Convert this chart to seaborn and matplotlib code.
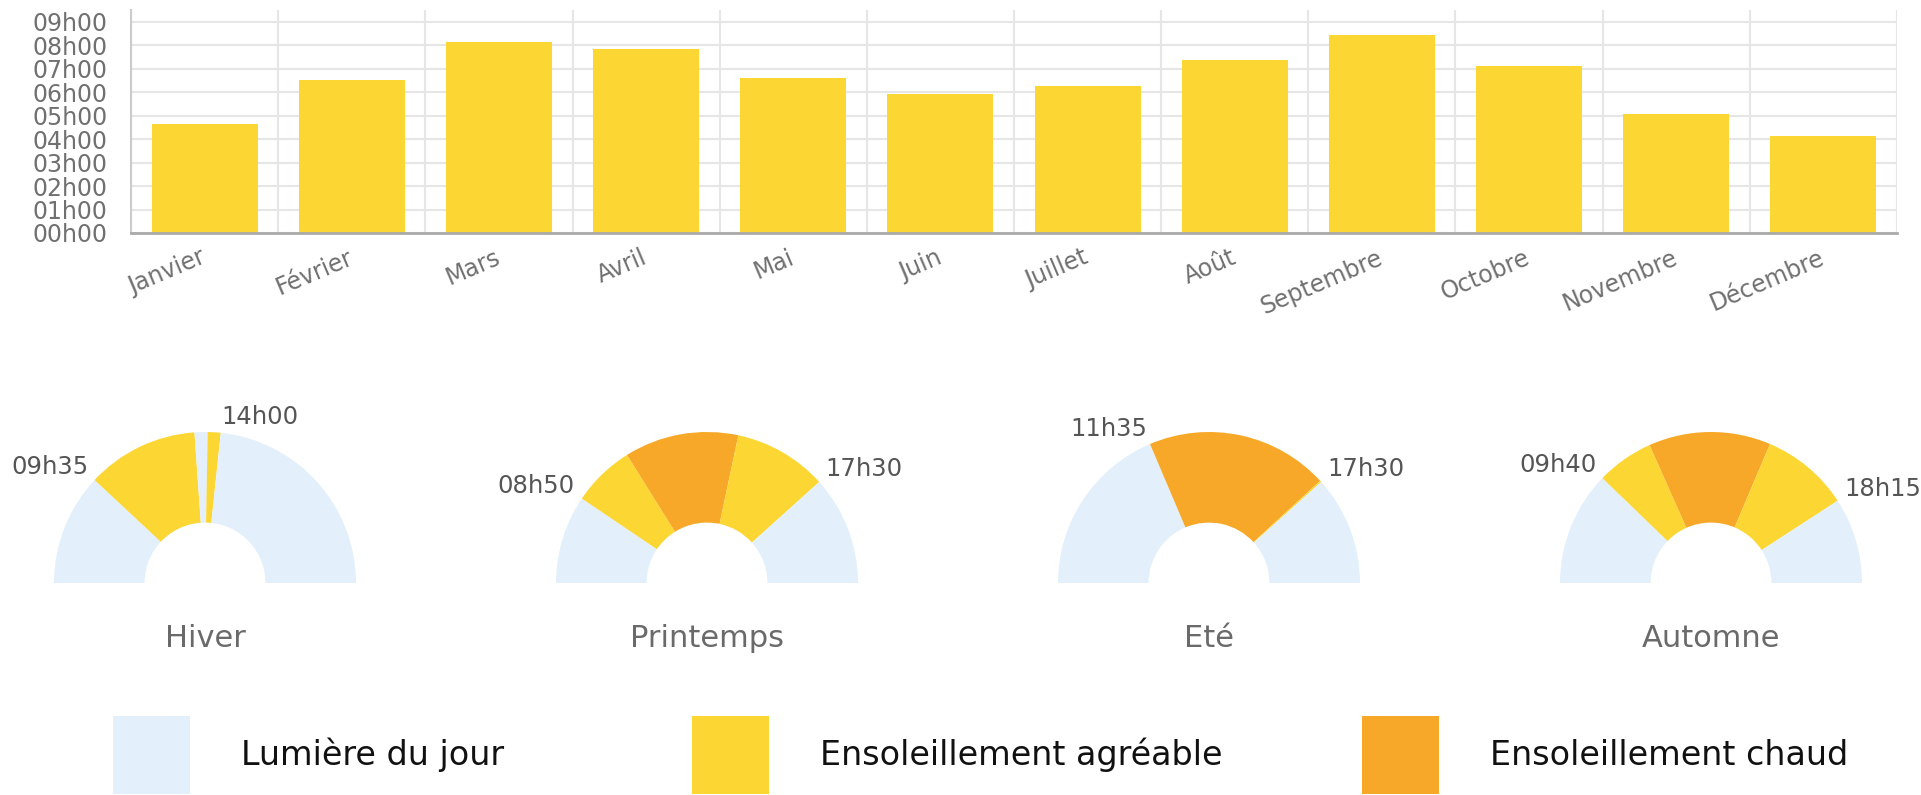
import numpy as np
import pandas as pd
import matplotlib
matplotlib.use("Agg")
import matplotlib.pyplot as plt
import seaborn as sns
from matplotlib.patches import Patch

# ---------------- data ----------------
months = ["Janvier", "Février", "Mars", "Avril", "Mai", "Juin", "Juillet",
          "Août", "Septembre", "Octobre", "Novembre", "Décembre"]
sun_hours = [4.65, 6.53, 8.15, 7.82, 6.60, 5.93, 6.27, 7.38, 8.42, 7.12, 5.05, 4.12]
hour_ticks = [0, 1, 2, 3, 4, 5, 6, 7, 8, 9]
hour_labels = ["00h00", "01h00", "02h00", "03h00", "04h00",
               "05h00", "06h00", "07h00", "08h00", "09h00"]

seasons = ["Hiver", "Printemps", "Eté", "Automne"]
hiver_bounds = ["06h00", "09h35", "13h10", "13h35", "14h00", "21h00"]
hiver_kinds = ["jour", "agreable", "jour", "agreable", "jour"]
printemps_bounds = ["06h00", "08h50", "10h50", "14h30", "17h30", "21h00"]
printemps_kinds = ["jour", "agreable", "chaud", "agreable", "jour"]
ete_bounds = ["06h00", "11h35", "17h27", "17h30", "21h00"]
ete_kinds = ["jour", "chaud", "agreable", "jour"]
automne_bounds = ["06h00", "09h40", "11h30", "15h25", "18h15", "21h00"]
automne_kinds = ["jour", "agreable", "chaud", "agreable", "jour"]
labelled_bounds = [[1, 4], [1, 4], [1, 3], [1, 4]]

legend_kinds = ["jour", "agreable", "chaud"]
legend_labels = ["Lumière du jour", "Ensoleillement agréable", "Ensoleillement chaud"]

# ---------------- style ----------------
palette = {"jour": "#E3F0FB", "agreable": "#FCD734", "chaud": "#F8A829"}
bar_color = "#FCD734"
grid_color = "#E6E6E6"

sns.set_style("white")
plt.rcParams["font.family"] = ["DejaVu Sans"]

W, H = 1921, 795
fig = plt.figure(figsize=(W / 100, H / 100), dpi=100)

# ---------------- bar chart ----------------
left, right, top, base = 131, 1897, 10, 233
ax = fig.add_axes([left / W, 1 - base / H, (right - left) / W, (base - top) / H])
df = pd.DataFrame({"mois": months, "heures": sun_hours})
sns.barplot(data=df, x="mois", y="heures", color=bar_color, saturation=1,
            width=0.72, ax=ax, linewidth=0)
ax.set_xlim(-0.5, 11.5)
ax.set_ylim(0, 9.5)
ax.set_xlabel("")
ax.set_ylabel("")
ax.set_yticks(hour_ticks)
ax.set_yticklabels(hour_labels)
ax.set_xticks(range(len(months)))
ax.set_xticklabels(months, rotation=23, ha="right", va="center",
                   rotation_mode="anchor")
ax.set_xticks(np.arange(-0.5, len(months), 1), minor=True)
ax.tick_params(axis="x", which="major", length=0, pad=17, labelsize=17,
               labelcolor="#707070")
ax.tick_params(axis="x", which="minor", length=14, width=1.5, color=grid_color)
ax.tick_params(axis="y", which="major", length=16, width=1.5, color=grid_color,
               pad=1, labelsize=17, labelcolor="#707070")
ax.grid(axis="y", which="major", color=grid_color, linewidth=1.5)
ax.grid(axis="x", which="minor", color=grid_color, linewidth=1.5)
ax.set_axisbelow(True)
for s in ["top", "right"]:
    ax.spines[s].set_visible(False)
ax.spines["bottom"].set_color("#AAAAAA")
ax.spines["bottom"].set_linewidth(2)
ax.spines["left"].set_color("#CCCCCC")
ax.spines["left"].set_linewidth(1.5)

# ---------------- half donuts ----------------
def to_h(s):
    h, m = s.split("h")
    return int(h) + int(m) / 60.0

season_data = [(hiver_bounds, hiver_kinds), (printemps_bounds, printemps_kinds),
               (ete_bounds, ete_kinds), (automne_bounds, automne_kinds)]
centers_x = [205, 707, 1209, 1711]
cy, R = 583, 151

for name, (bounds, kinds), lab_idx, cx in zip(seasons, season_data,
                                              labelled_bounds, centers_x):
    dax = fig.add_axes([(cx - R) / W, 1 - (cy + R) / H, 2 * R / W, 2 * R / H])
    t = [to_h(b) for b in bounds]
    vals = list(np.diff(t))
    span = t[-1] - t[0]
    cols = [palette[k] for k in kinds]
    dax.pie(vals + [span], colors=cols + ["none"], startangle=180,
            counterclock=False, radius=1,
            wedgeprops=dict(width=0.6, linewidth=0, edgecolor="none"))
    dax.set_xlim(-1, 1)
    dax.set_ylim(-1, 1)
    dax.set_aspect("equal")
    dax.axis("off")
    for j in lab_idx:
        ang = np.pi - (t[j] - t[0]) / span * np.pi
        r = 1.055
        x, y = r * np.cos(ang), r * np.sin(ang) - 0.03
        dax.text(x, y, bounds[j], ha="right" if np.cos(ang) < 0 else "left",
                 va="bottom", fontsize=17.5, color="#555555")
    dax.text(0, -0.37, name, ha="center", va="center", fontsize=22,
             color="#6A6A6A")

# ---------------- legend ----------------
legend_x = [113, 692, 1362]
fs = 24
fpx = fs * 100 / 72
for k, lab, x in zip(legend_kinds, legend_labels, legend_x):
    fig.legend(handles=[Patch(facecolor=palette[k], edgecolor="none")],
               labels=[lab], loc="center left",
               bbox_to_anchor=(x / W, 1 - 755 / H), frameon=False,
               fontsize=fs, handlelength=77 / fpx, handleheight=3.18,
               handletextpad=51 / fpx, borderpad=0, borderaxespad=0,
               labelcolor="#111111")

fig.savefig("out.png", dpi=100, facecolor="white")
